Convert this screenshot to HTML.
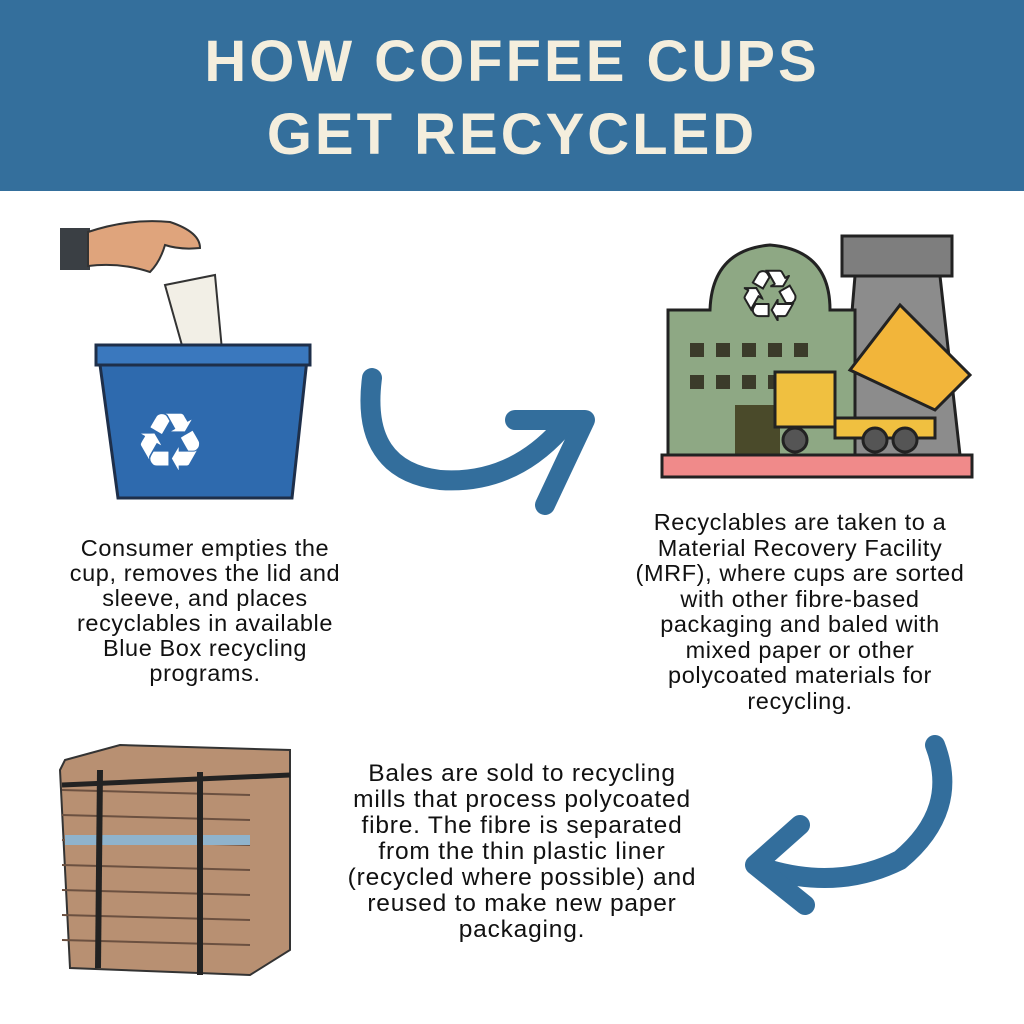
<!DOCTYPE html>
<html><head><meta charset="utf-8"><style>
body{margin:0;width:1024px;height:1024px;background:#fff;position:relative;overflow:hidden;font-family:"Liberation Sans",sans-serif}
.hdr{position:absolute;left:0;top:0;width:1024px;height:191px;background:#346f9c}
.t{position:absolute;left:0;width:1024px;text-align:center;color:#f4eedd;font-weight:bold;font-size:58px;letter-spacing:3px}
.p{position:absolute;text-align:center;font-size:23.5px;letter-spacing:0.6px;line-height:25px;color:#111;white-space:nowrap}
</style></head><body>
<div class="hdr"></div>
<div class="t" style="top:28px">HOW COFFEE CUPS</div>
<div class="t" style="top:101px">GET RECYCLED</div>
<svg width="1024" height="1024" style="position:absolute;left:0;top:0">
<rect x="60" y="228" width="30" height="42" fill="#3a3f44"/>
<path d="M88 232 Q130 218 170 222 Q200 232 200 248 Q180 250 165 245 Q160 262 150 272 Q120 262 88 266Z" fill="#dfa47c" stroke="#333" stroke-width="2"/>
<path d="M165 285 L215 275 L222 350 L185 356Z" fill="#f2efe6" stroke="#333" stroke-width="2"/>
<path d="M98 350 L308 350 L292 498 L118 498Z" fill="#2e6aae" stroke="#1e2f4a" stroke-width="3"/>
<rect x="96" y="345" width="214" height="20" fill="#3a78be" stroke="#1e2f4a" stroke-width="3"/>
<text x="170" y="470" font-size="80" fill="#fff" text-anchor="middle">♻</text>
<path d="M372 378 Q360 470 440 480 Q510 485 560 430" fill="none" stroke="#336e9c" stroke-width="20" stroke-linecap="round"/>
<path d="M515 420 L585 420 L545 505" fill="none" stroke="#336e9c" stroke-width="20" stroke-linecap="round" stroke-linejoin="round"/>
<rect x="842" y="236" width="110" height="40" fill="#7e7e7e" stroke="#222" stroke-width="3"/>
<path d="M855 276 L940 276 L960 455 L840 455Z" fill="#8c8c8c" stroke="#222" stroke-width="3"/>
<path d="M668 310 L710 310 Q712 250 770 245 Q830 250 830 310 L855 310 L855 455 L668 455Z" fill="#8ea884" stroke="#222" stroke-width="3"/>
<text x="770" y="320" font-size="70" fill="#fff" stroke="#222" stroke-width="2" text-anchor="middle">♻</text>
<g fill="#3b3b2a"><rect x="690" y="343" width="14" height="14"/><rect x="716" y="343" width="14" height="14"/><rect x="742" y="343" width="14" height="14"/><rect x="768" y="343" width="14" height="14"/><rect x="794" y="343" width="14" height="14"/><rect x="690" y="375" width="14" height="14"/><rect x="716" y="375" width="14" height="14"/><rect x="742" y="375" width="14" height="14"/><rect x="768" y="375" width="14" height="14"/></g>
<rect x="735" y="405" width="45" height="50" fill="#4a4a2a"/>
<rect x="775" y="372" width="60" height="55" fill="#f0c040" stroke="#222" stroke-width="3"/>
<rect x="835" y="418" width="100" height="20" fill="#f0c040" stroke="#222" stroke-width="3"/>
<path d="M850 370 L900 305 L970 375 L935 410Z" fill="#f2b53a" stroke="#222" stroke-width="3"/>
<circle cx="795" cy="440" r="12" fill="#555" stroke="#222" stroke-width="3"/><circle cx="875" cy="440" r="12" fill="#555" stroke="#222" stroke-width="3"/><circle cx="905" cy="440" r="12" fill="#555" stroke="#222" stroke-width="3"/>
<rect x="662" y="455" width="310" height="22" fill="#f08a8a" stroke="#222" stroke-width="3"/>
<path d="M935 745 Q960 810 900 860 Q840 890 770 870" fill="none" stroke="#336e9c" stroke-width="20" stroke-linecap="round"/>
<path d="M800 825 L755 865 L805 905" fill="none" stroke="#336e9c" stroke-width="20" stroke-linecap="round" stroke-linejoin="round"/>
<path d="M65 760 L120 745 L290 750 L290 950 L250 975 L70 968 L60 770Z" fill="#b89072" stroke="#333" stroke-width="2"/>
<g stroke="#6b5040" stroke-width="2">
<line x1="62" y1="790" x2="250" y2="795"/><line x1="62" y1="815" x2="250" y2="820"/><line x1="62" y1="840" x2="250" y2="845"/><line x1="62" y1="865" x2="250" y2="870"/><line x1="62" y1="890" x2="250" y2="895"/><line x1="62" y1="915" x2="250" y2="920"/><line x1="62" y1="940" x2="250" y2="945"/></g>
<rect x="65" y="835" width="185" height="10" fill="#8fb3cc"/>
<line x1="100" y1="770" x2="98" y2="968" stroke="#222" stroke-width="6"/>
<line x1="200" y1="772" x2="200" y2="975" stroke="#222" stroke-width="6"/>
<line x1="62" y1="785" x2="290" y2="775" stroke="#222" stroke-width="5"/>
</svg>
<div class="p" style="left:5px;top:536px;width:400px">Consumer empties the<br>cup, removes the lid and<br>sleeve, and places<br>recyclables in available<br>Blue Box recycling<br>programs.</div>
<div class="p" style="left:600px;top:510px;width:400px;line-height:25.5px">Recyclables are taken to a<br>Material Recovery Facility<br>(MRF), where cups are sorted<br>with other fibre-based<br>packaging and baled with<br>mixed paper or other<br>polycoated materials for<br>recycling.</div>
<div class="p" style="left:322px;top:761px;width:400px;line-height:26px;font-size:24.5px;letter-spacing:0.8px">Bales are sold to recycling<br>mills that process polycoated<br>fibre. The fibre is separated<br>from the thin plastic liner<br>(recycled where possible) and<br>reused to make new paper<br>packaging.</div>
</body></html>
